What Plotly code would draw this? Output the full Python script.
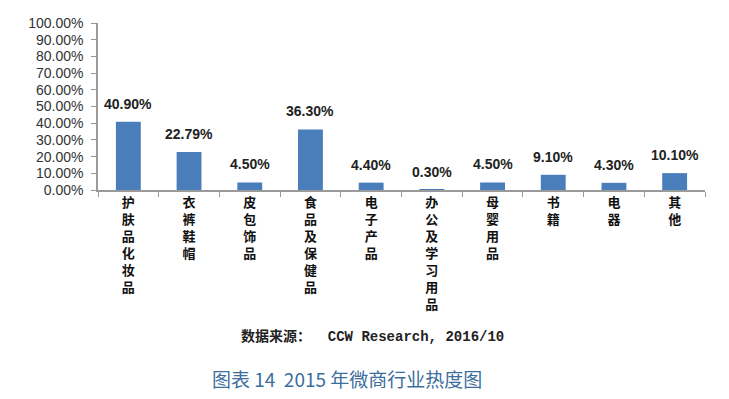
import plotly.graph_objects as go

categories = ["护肤品化妆品", "衣裤鞋帽", "皮包饰品", "食品及保健品", "电子产品",
              "办公及学习用品", "母婴用品", "书籍", "电器", "其他"]
values = [40.90, 22.79, 4.50, 36.30, 4.40, 0.30, 4.50, 9.10, 4.30, 10.10]
y_ticks = [0, 10, 20, 30, 40, 50, 60, 70, 80, 90, 100]
y_tick_labels = [f"{v:.2f}%" for v in y_ticks]
value_labels = [f"{v:.2f}%" for v in values]
source_cn = "数据来源："
source_en = "CCW Research, 2016/10"
caption_text = "图表 14  2015 年微商行业热度图"

cat_text = ["<br>".join(list(c)) for c in categories]

fig = go.Figure(go.Bar(
    x=categories,
    y=values,
    marker=dict(color="#4A7EBB", line=dict(width=0)),
    hoverinfo="x+y",
))

for c, v, lab in zip(categories, values, value_labels):
    fig.add_annotation(
        x=c, y=v, text=f"<b>{lab}</b>", showarrow=False,
        xanchor="center", yanchor="bottom", yshift=8,
        font=dict(family="Liberation Sans, Arial", size=14, color="#222222"),
    )

fig.update_layout(
    width=729, height=399,
    margin=dict(l=98, r=24, t=23, b=209),
    paper_bgcolor="white", plot_bgcolor="white",
    bargap=0.59,
    showlegend=False,
    font=dict(family="Noto Sans CJK SC, Liberation Sans", color="#222222"),
)

fig.update_xaxes(
    tickmode="array", tickvals=categories, ticktext=[f"<b>{t}</b>" for t in cat_text],
    tickangle=0, automargin=False,
    tickfont=dict(family="Liberation Sans, Noto Sans CJK SC", size=13, color="#111111"),
    showline=True, linecolor="#9a9a9a", linewidth=1.5,
    ticks="outside", tickson="boundaries", ticklen=5, tickcolor="#9a9a9a",
    showgrid=False,
)
fig.update_yaxes(
    range=[0, 100], tickvals=y_ticks, ticktext=y_tick_labels, automargin=False,
    tickfont=dict(family="Liberation Sans, Arial", size=14, color="#333333"),
    showline=True, linecolor="#9a9a9a", linewidth=1.5,
    ticks="outside", ticklen=5, tickcolor="#9a9a9a", ticklabelstandoff=5,
    showgrid=False, zeroline=False,
)

fig.add_annotation(
    text=(f"<b><span style='font-family:Noto Sans CJK SC'>{source_cn}</span>"
          f"<span style='font-family:Liberation Mono'>  {source_en}</span></b>"),
    xref="paper", yref="paper",
    x=0.452, y=-0.87, xanchor="center", yanchor="middle", showarrow=False,
    font=dict(family="Liberation Mono, Noto Sans CJK SC", size=14, color="#222222"),
)
fig.add_annotation(
    text=caption_text, xref="paper", yref="paper",
    x=0.41, y=-1.13, xanchor="center", yanchor="middle", showarrow=False,
    font=dict(family="Noto Sans CJK SC", size=19, color="#3C6E9E"),
)

fig.write_html("out.html", config={"displayModeBar": False},
               post_script="document.body.style.margin='0';")
